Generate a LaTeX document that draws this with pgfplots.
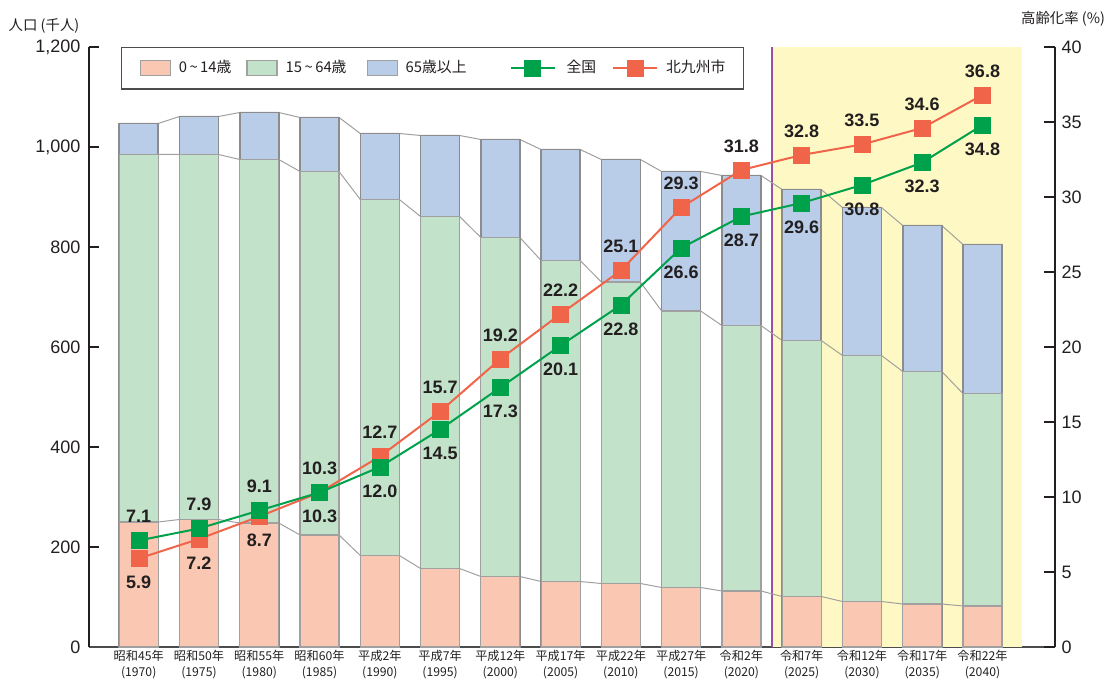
\documentclass[border=0pt]{standalone}
\usepackage{fontspec}
\setmainfont{Liberation Sans}
\newfontfamily\cjk{Noto Sans CJK JP}
\usepackage{pgfplots}
\usepackage{pgfplotstable}
\pgfplotsset{compat=1.18}

\definecolor{cOr}{HTML}{FAC8B2}
\definecolor{cGr}{HTML}{C2E2CA}
\definecolor{cBl}{HTML}{B9CDE8}
\definecolor{cEdge}{HTML}{A0A0A0}
\definecolor{cEdgeD}{HTML}{8C8C8C}
\definecolor{cYel}{HTML}{FEF9C4}
\definecolor{cPur}{HTML}{9B4FA5}
\definecolor{lGr}{HTML}{00A14B}
\definecolor{lOr}{HTML}{F0654A}
\definecolor{txt}{HTML}{231F20}

% cumulative boundaries (thousand people): a = 0-14 top, b = 15-64 top, c = total
\pgfplotstableread{
x a b c
0 250 985 1047
1 255 985 1061
2 248 975 1069
3 224 951 1059
4 183 895 1027
5 157 861 1023
6 141 819 1015
7 131 773 995
8 127 730 975
9 119 672 951
10 112 643 943
11 101 613 915
12 91 583 879
13 86 551 843
14 82 507 805
}\bars

\pgfplotstableread{
x a b c
-0.3235 250 985 1047
0.3235 250 985 1047
0.6765 255 985 1061
1.3235 255 985 1061
1.6765 248 975 1069
2.3235 248 975 1069
2.6765 224 951 1059
3.3235 224 951 1059
3.6765 183 895 1027
4.3235 183 895 1027
4.6765 157 861 1023
5.3235 157 861 1023
5.6765 141 819 1015
6.3235 141 819 1015
6.6765 131 773 995
7.3235 131 773 995
7.6765 127 730 975
8.3235 127 730 975
8.6765 119 672 951
9.3235 119 672 951
9.6765 112 643 943
10.3235 112 643 943
10.6765 101 613 915
11.3235 101 613 915
11.6765 91 583 879
12.3235 91 583 879
12.6765 86 551 843
13.3235 86 551 843
13.6765 82 507 805
14.3235 82 507 805
}\edges

\pgfplotstableread{
x zen kit
0 7.1 5.9
1 7.9 7.2
2 9.1 8.7
3 10.3 10.3
4 12.0 12.7
5 14.5 15.7
6 17.3 19.2
7 20.1 22.2
8 22.8 25.1
9 26.6 29.3
10 28.7 31.8
11 29.6 32.8
12 30.8 33.5
13 32.3 34.6
14 34.8 36.8
}\rates

\pgfplotsset{
  lab/.style={draw=none, mark=none, forget plot, point meta=explicit,
    nodes near coords={\pgfmathprintnumber[fixed,fixed zerofill,precision=1]{\pgfplotspointmeta}},
    every node near coord/.append style={anchor=center, yshift=#1, text=txt,
      font=\bfseries\fontsize{18bp}{18bp}\selectfont}},
}

\begin{document}
\begin{tikzpicture}
\begin{axis}[name=ax1,
  scale only axis, width=966bp, height=600bp,
  xmin=-0.825, xmax=15.203, ymin=0, ymax=1200,
  axis y line*=left, axis x line*=bottom,
  y axis line style={line width=1.2bp, txt, -},
  x axis line style={line width=1.8bp, black!70, -},
  ytick={0,200,...,1200}, tick align=inside, major tick length=10bp,
  ytick style={line width=1.2bp, txt},
  yticklabel style={font=\fontsize{18bp}{18bp}\selectfont, text=txt, xshift=-5bp},
  /pgf/number format/1000 sep={,},
  /pgf/number format/assume math mode=true,
  xtick={0,...,14}, xtick style={draw=none},
  xticklabels={{昭和45年\\(1970)},{昭和50年\\(1975)},{昭和55年\\(1980)},{昭和60年\\(1985)},{平成2年\\(1990)},{平成7年\\(1995)},{平成12年\\(2000)},{平成17年\\(2005)},{平成22年\\(2010)},{平成27年\\(2015)},{令和2年\\(2020)},{令和7年\\(2025)},{令和12年\\(2030)},{令和17年\\(2035)},{令和22年\\(2040)}},
  xticklabel style={font=\cjk\fontsize{12.2bp}{16bp}\selectfont, align=center, text=txt},
  clip=false,
]
\fill[cYel] (axis cs:10.51,0) rectangle (axis cs:14.65,1200);
\draw[cPur, line width=1.5bp] (axis cs:10.51,0) -- (axis cs:10.51,1200);

\addplot[cEdge, line width=1bp] table[x=x, y=a] {\edges};
\addplot[cEdge, line width=1bp] table[x=x, y=b] {\edges};
\addplot[cEdge, line width=1bp] table[x=x, y=c] {\edges};

\addplot[ybar, bar width=0.647, bar shift=0pt, fill=cBl, draw=cEdgeD, line width=1.6bp] table[x=x, y=c] {\bars};
\addplot[ybar, bar width=0.647, bar shift=0pt, fill=cGr, draw=cEdge, line width=1.2bp] table[x=x, y=b] {\bars};
\addplot[ybar, bar width=0.647, bar shift=0pt, fill=cOr, draw=cEdge, line width=1.2bp] table[x=x, y=a] {\bars};
\end{axis}

\begin{axis}[
  scale only axis, width=966bp, height=600bp,
  xmin=-0.825, xmax=15.203, ymin=0, ymax=40,
  axis y line*=right, axis x line=none,
  y axis line style={line width=1.2bp, txt, -},
  ytick={0,5,...,40}, tick align=inside, major tick length=11bp,
  ytick style={line width=1.2bp, txt},
  yticklabel style={font=\fontsize{18bp}{18bp}\selectfont, text=txt, xshift=3bp},
  /pgf/number format/assume math mode=true,
  xtick=\empty,
  clip=false,
  legend columns=-1,
  legend style={at={(0.0331,1)}, anchor=north west, draw=black!70, line width=1.3bp, fill=white,
    inner xsep=18bp, inner ysep=12bp,
    font=\cjk\fontsize{14.8bp}{14.8bp}\selectfont, text=txt,
    nodes={inner sep=0pt, text height=11bp, text depth=3bp},
    /tikz/column 1/.style={column sep=8bp},
    /tikz/column 2/.style={column sep=15bp},
    /tikz/column 3/.style={column sep=8bp},
    /tikz/column 4/.style={column sep=20bp},
    /tikz/column 5/.style={column sep=8bp},
    /tikz/column 6/.style={column sep=43bp},
    /tikz/column 7/.style={column sep=11bp},
    /tikz/column 8/.style={column sep=16bp},
    /tikz/column 9/.style={column sep=8bp},
  },
]
\addlegendimage{legend image code/.code={\draw[fill=cOr, draw=cEdge, line width=1.2bp] (0bp,-7.5bp) rectangle (30bp,7.5bp);}}
\addlegendentry{0{\kern2.5bp}\textasciitilde{\kern2.5bp}14歳}
\addlegendimage{legend image code/.code={\draw[fill=cGr, draw=cEdge, line width=1.2bp] (0bp,-7.5bp) rectangle (30bp,7.5bp);}}
\addlegendentry{15{\kern2.5bp}\textasciitilde{\kern2.5bp}64歳}
\addlegendimage{legend image code/.code={\draw[fill=cBl, draw=cEdge, line width=1.2bp] (0bp,-7.5bp) rectangle (30bp,7.5bp);}}
\addlegendentry{65歳以上}
\addlegendimage{legend image code/.code={\draw[lGr, line width=2bp] (0bp,0bp) -- (44bp,0bp); \fill[lGr] (14bp,-8bp) rectangle (30bp,8bp);}}
\addlegendentry{全国}
\addlegendimage{legend image code/.code={\draw[lOr, line width=2bp] (0bp,0bp) -- (44bp,0bp); \fill[lOr] (14bp,-8bp) rectangle (30bp,8bp);}}
\addlegendentry{北九州市}

\addplot[lOr, line width=2bp, mark=square*, mark size=8bp,
  mark options={fill=lOr, draw=lOr, line width=0.4bp, solid}, forget plot]
  table[x=x, y=kit] {\rates};
\addplot[lGr, line width=2bp, mark=square*, mark size=8bp,
  mark options={fill=lGr, draw=lGr, line width=0.4bp, solid}, forget plot]
  table[x=x, y=zen] {\rates};

% data labels
\addplot[lab=-24bp, restrict x to domain=0:2.5] table[x=x, y=kit, meta=kit] {\rates};
\addplot[lab=24bp, restrict x to domain=2.5:14.5] table[x=x, y=kit, meta=kit] {\rates};
\addplot[lab=24bp, restrict x to domain=0:2.5] table[x=x, y=zen, meta=zen] {\rates};
\addplot[lab=-24bp, restrict x to domain=2.5:14.5] table[x=x, y=zen, meta=zen] {\rates};

\node[font=\cjk\fontsize{14.4bp}{14.4bp}\selectfont, text=txt] at (rel axis cs:0,1) [xshift=-45bp, yshift=21bp] {人口 (千人)};
\node[font=\cjk\fontsize{14.4bp}{14.4bp}\selectfont, text=txt] at (rel axis cs:1,1) [xshift=8bp, yshift=28bp] {高齢化率 (\%)};
\end{axis}
\path[use as bounding box] ([shift={(-89bp,-37bp)}]ax1.south west) rectangle ([shift={(1028bp,647bp)}]ax1.south west);
\end{tikzpicture}
\end{document}
